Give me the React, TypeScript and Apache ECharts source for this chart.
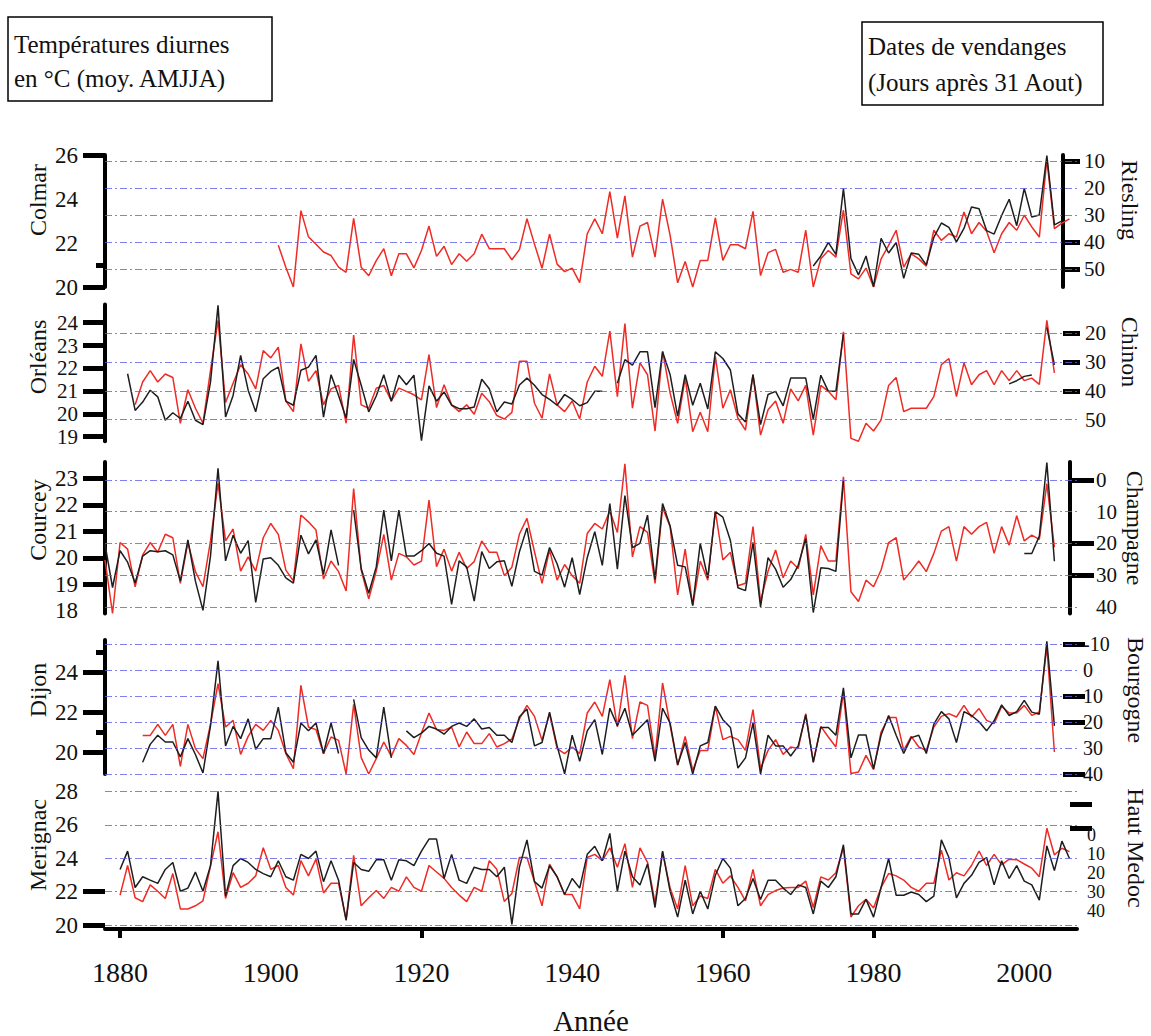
import React, { useEffect, useRef } from "react";
import * as echarts from "echarts";

const SERIF = '"Liberation Serif", "Times New Roman", Times, serif';
const RED = "#ee2b25";
const BLACK = "#1e1e1e";
const GRID_BLUE = "rgba(95, 95, 235, 0.8)";

const TITLE_LEFT = ["Températures diurnes", "en °C (moy. AMJJA)"];
const TITLE_RIGHT = ["Dates de vendanges", "(Jours après 31 Aout)"];
const X_NAME = "Année";
const YEAR_LABELS = [1880, 1900, 1920, 1940, 1960, 1980, 2000];
const YEAR_TICKS = [1880, 1920, 1960, 1980];
const YEAR_MIN = 1878;
const YEAR_MAX = 2007;

const SITES = ["Colmar", "Orléans", "Courcey", "Dijon", "Merignac"];
const VARIETIES = ["Riesling", "Chinon", "Champagne", "Bourgogne", "Haut Medoc"];

// ---- Temperatures (°C, mean AMJJA) ----
const colmarTempStart = 1901;
const colmarTemp = [
  21.9, 20.9, 20.0, 23.47, 22.28, 21.94, 21.59, 21.43, 20.9, 20.67,
  23.12, 20.9, 20.51, 21.2, 21.74, 20.51, 21.51, 21.51, 20.87, 21.66,
  22.77, 21.39, 21.85, 21.02, 21.51, 21.17, 21.51, 22.4, 21.74, 21.74,
  21.74, 21.24, 21.7, 23.1, 21.95, 20.85, 22.4, 21.04, 20.7, 20.86,
  20.2, 22.42, 23.1, 22.42, 24.33, 22.22, 24.14, 21.36, 22.77, 22.93,
  21.36, 23.99, 22.35, 20.19, 21.16, 20.0, 21.21, 21.21, 23.14, 21.21,
  21.92, 21.92, 21.74, 23.44, 20.52, 21.56, 21.71, 20.67, 20.8, 20.67,
  22.58, 20.0, 21.28, 21.66, 21.36, 23.49, 20.6, 20.37, 20.86, 20.0,
  21.28, 21.89, 22.58, 20.9, 21.51, 21.28, 20.95, 22.58, 22.12, 22.42,
  22.27, 23.41, 22.42, 22.93, 22.53, 21.56, 22.42, 22.93, 22.58, 23.26,
  22.73, 22.27, 25.8, 22.65, 22.9, 23.1,
];

const orleansTempStart = 1882;
const orleansTemp = [
  20.4, 21.4, 21.9, 21.4, 21.75, 21.6, 19.59, 21.06, 20.25,
  19.59, 21.9, 24.1, 20.5, 21.35, 22.16, 21.75, 21.1, 22.78, 22.46,
  22.93, 20.57, 20.1, 23.07, 21.43, 21.9, 20.4, 21.1, 21.25, 19.59,
  23.46, 20.4, 20.25, 21.13, 21.25, 20.57, 21.13, 20.99, 20.84, 20.62,
  22.6, 20.28, 21.28, 20.4, 20.1, 20.4, 19.99, 20.91, 20.54, 19.93,
  19.78, 20.07, 22.31, 22.31, 20.47, 19.81, 21.76, 20.4, 20.1, 20.57,
  19.78, 21.4, 22.09, 21.65, 23.63, 20.76, 23.96, 20.25, 22.24, 21.72,
  19.25, 22.75, 20.91, 19.59, 21.57, 19.22, 20.07, 19.22, 22.53, 20.25,
  21.06, 19.81, 19.29, 21.72, 19.07, 20.18, 20.57, 19.59, 21.1, 20.57,
  21.25, 19.07, 21.25, 20.99, 20.62, 23.6, 18.93, 18.8, 19.59, 19.25,
  19.74, 21.25, 21.6, 20.1, 20.25, 20.25, 20.25, 20.76, 22.16, 22.43,
  20.76, 22.24, 21.28, 21.72, 21.9, 21.28, 21.9, 21.46, 21.9, 21.46,
  21.57, 21.3, 24.1, 21.8,
];

const courceyTempStart = 1878;
const courceyTemp = [
  19.92, 17.9, 20.58,
  20.33, 18.91, 20.11, 20.58, 20.21, 20.89, 20.76, 19.04, 20.58, 19.48,
  18.91, 20.64, 22.81, 20.64, 21.09, 19.5, 20.04, 19.5, 20.76, 21.3,
  20.89, 19.54, 19.13, 21.62, 21.36, 21.05, 19.2, 19.88, 19.48, 18.75,
  22.62, 19.54, 18.45, 19.5, 20.89, 19.16, 20.17, 20.04, 19.73, 19.88,
  22.18, 19.67, 20.33, 19.5, 20.21, 19.6, 19.86, 20.64, 20.21, 20.21,
  19.33, 19.65, 20.9, 21.49, 20.23, 19.04, 20.3, 19.16, 19.75, 19.33,
  19.04, 20.92, 21.3, 21.09, 21.77, 20.96, 23.55, 20.04, 21.18, 20.96,
  19.04, 21.89, 21.18, 18.6, 20.33, 18.19, 19.88, 19.16, 21.77, 19.92,
  20.21, 18.95, 19.04, 21.18, 18.35, 19.5, 20.3, 19.25, 19.88, 19.6,
  20.89, 18.6, 20.46, 19.88, 19.88, 23.06, 18.72, 18.35, 19.16, 18.91,
  19.54, 20.58, 20.76, 19.16, 19.5, 19.88, 19.48, 20.17, 21.01, 21.18,
  19.88, 21.18, 20.89, 21.18, 21.34, 20.17, 21.18, 20.48, 21.59, 20.64,
  20.86, 20.7, 22.8, 20.4,
];

const dijonTempStart = 1883;
const dijonTemp = [
  20.83, 20.83, 21.38, 20.83, 21.38, 19.28, 21.38, 20.17,
  19.67, 21.38, 23.42, 21.25, 21.58, 19.88, 20.78, 21.38, 21.08, 21.58,
  21.08, 19.92, 19.17, 23.33, 21.25, 21.12, 19.92, 20.75, 20.58, 18.9,
  22.38, 19.72, 18.9, 19.67, 20.5, 19.78, 20.67, 20.33, 19.88, 20.95,
  21.95, 21.12, 21.08, 21.25, 20.25, 21.0, 20.42, 20.42, 20.92, 20.25,
  20.42, 20.65, 21.65, 22.33, 21.78, 20.58, 21.92, 20.17, 19.92, 20.25,
  19.92, 21.95, 22.5, 21.78, 23.62, 21.25, 23.83, 20.67, 22.5, 22.33,
  19.75, 23.45, 21.33, 19.33, 20.78, 19.08, 20.08, 20.08, 22.28, 20.62,
  20.78, 20.62, 20.08, 22.12, 19.17, 20.08, 20.62, 19.88, 20.25, 20.17,
  21.92, 19.5, 21.28, 20.75, 20.25, 23.0, 18.92, 19.0, 19.83, 19.12,
  21.0, 21.72, 21.72, 20.08, 20.78, 20.25, 20.08, 21.25, 21.78, 21.92,
  21.75, 22.33, 21.75, 22.17, 21.58, 21.42, 22.28, 21.95, 21.95, 22.33,
  21.83, 22.0, 25.3, 20.0,
];

const merignacTempStart = 1880;
const merignacTemp = [
  21.8,
  23.57, 21.64, 21.41, 22.41, 22.03, 21.6, 23.09, 20.97, 20.97, 21.16,
  21.45, 23.53, 25.59, 21.6, 23.14, 22.26, 22.51, 22.95, 24.63, 23.34,
  23.57, 22.26, 21.8, 23.86, 22.95, 23.95, 21.93, 22.51, 22.51, 20.33,
  24.18, 21.16, 21.64, 22.07, 21.6, 22.26, 22.03, 22.89, 22.26, 22.03,
  23.57, 23.18, 22.8, 22.26, 21.8, 21.41, 22.26, 22.03, 23.86, 23.34,
  21.41, 21.9, 24.05, 24.05, 22.6, 21.16, 23.66, 22.89, 21.83, 21.83,
  20.97, 24.05, 24.24, 23.86, 24.63, 23.47, 24.88, 22.26, 24.63, 23.76,
  21.35, 24.38, 22.22, 20.97, 23.57, 21.16, 21.74, 21.6, 23.34, 22.51,
  22.95, 22.26, 21.45, 23.34, 21.16, 21.83, 22.07, 22.22, 22.26, 22.26,
  22.64, 21.06, 22.89, 22.7, 23.14, 24.63, 20.49, 21.16, 21.55, 21.03,
  22.26, 23.09, 22.95, 22.7, 22.26, 22.03, 22.51, 22.51, 24.49, 22.7,
  23.14, 22.95, 23.57, 24.44, 23.57, 24.24, 23.61, 23.95, 23.92, 23.66,
  23.41, 22.9, 25.8, 24.2, 24.6, 24.4,
];

// ---- Harvest dates (days after 31 August) ----
const rieslingStart = 1972;
const rieslingDates = [
  48.7, 45, 40, 44.4, 20, 46, 52, 45, 56.4,
  38.5, 43.9, 40, 53.3, 43.9, 44.4, 48.3, 38.1, 32.8, 34.4,
  39.8, 34.8, 26.9, 27.5, 35.6, 36.9, 30, 24, 33.8, 20,
  30.6, 29.8, 7.8, 33.5, 32,
];

const chinonStart = 1881;
const chinonDates = [
  34.1, 46.8, 43.9, 39.8, 42.1, 50.2, 47.6, 49.6, 43.6, 50.2,
  51.7, 37, 10.4, 49.1, 41.6, 27.7, 39.8, 47.3, 35.8, 33.3,
  31.8, 43.6, 45, 32.9, 31.8, 27.7, 49.1, 34.4, 41.6, 49.4,
  29.1, 38.1, 47.3, 41.8, 34.4, 43.6, 34.6, 37.9, 34.6, 57.3,
  38.3, 43.6, 40.4, 45, 46.2, 46.2, 45.6, 36, 39.3, 47.3,
  43.9, 44.6, 38, 35.6, 38.1, 41.3, 43, 45, 41.3, 43,
  45.2, 44.1, 40.2, 40.2, null, 37.4, 29.2, 31.1, 26.5, 26.5,
  45.8, 26.5, 34.4, 48.8, 34.4, 45, 37.4, 46.3, 26.5, 28.8,
  32.8, 48, 50.8, 34.4, 51.7, 41.3, 40.2, 45.2, 35.6, 35.6,
  35.6, 49.9, 34.6, 40.2, 40.2, 20.4, null, null, null, null,
  null, null, null, null, null, null, null, null, null, null,
  null, null, null, null, null, null, null, 37.6, 36.5, 35,
  34.5, null, 18, 31,
];

const champagneStart = 1878;
const champagneDates = [
  20.2, 33.9, 22.3,
  25.9, 32.5, 24.0, 22.3, 22.6, 22.3, 23.6, 31.9, 18.9, 31.9,
  41.1, 24.0, -3.7, 25.5, 17.4, 23.1, 19.1, 38.6, 24.9, 24.5,
  26.9, 30.9, 32.5, 17.4, 23.3, 18.9, 29.8, 15.7, 26.9, null,
  9.5, 27.9, 35.7, 27.4, 9.5, 25.5, 9.5, 24.0, 24.0, 22.3,
  20.0, 23.1, 24.0, 39.2, 25.5, 27.4, 38.2, 22.6, 27.9, 25.8,
  25.5, 33.5, 22.6, 15.1, 28.8, 30, 21.3, 26.4, 33.8, 24.5,
  36.1, 24.5, 16.3, 26.9, 7.4, 28.1, 4.9, 21.3, 20, 11.1,
  31.4, 7.4, 14.5, 26.9, 27.4, 39.5, 20, 30.9, 10, 11.7,
  19.1, 34, 34.9, 19.7, 40, 24.5, 28.1, 33.8, 31.4, 26.9,
  18.5, 41.8, 27.7, 27.9, 28.8, 0.3, null, null, null, null,
  null, null, null, null, null, null, null, null, null, null,
  null, null, null, null, null, null, null, null, null, 23.2,
  23.2, 17.7, -5.5, 25.6,
];

const bourgogneStart = 1883;
const bourgogneDates = [
  35.5, 28.6, 25.1, 27.7, 27.7, 33.4, 26.4, 32.5,
  39.6, 21.4, -3.5, 29.2, 21.7, 26.4, 18.8, 30.5, 26.4, 26.4,
  14.3, 31.8, 35.5, 20.4, 23.4, 20.4, 32.1, 20.4, 32.1, null,
  11.3, 26, 30.8, 33.8, 14.3, 33.8, null, 23.4, 26, 24.3,
  21.7, 22.7, 24.7, 21.7, 20.4, 21.7, 18.8, 22.7, 22.1, 25.1,
  25.1, 27.9, 18, 15, 29.2, 27.9, 16.2, 29.2, 39.9, 25.1,
  35.1, 23.4, 19.1, 32.5, 14.7, 21.4, 14.7, 25.1, 22.1, 19.1,
  35.1, 14.7, 20.4, 36.4, 27.9, 40, 29.2, 27.9, 13.9, 19.1,
  22.1, 37.7, 33.8, 20.4, 40, 25.1, 29.2, 29.2, 33.1, 29.2,
  17.3, 35.5, 22.1, 22.1, 25.1, 6.9, 33.8, 25, 25, 38,
  25, 17.5, 25.1, 32.1, 26, 25.1, 32.1, 20.8, 16, 18.8,
  27.9, 16, 17.5, 19.9, 23.4, 19.5, 13.4, 17.5, 16, 11.7,
  16.2, 17, -11, 21.5,
];

const hautMedocStart = 1880;
const hautMedocDates = [
  18.1,
  8.4, 27.7, 22.0, 23.8, 25.5, 18.1, 14.4, 29.7, 28.0, 19.5,
  29.7, 16.1, -23.3, 32.3, 16.1, 12.3, 14.4, 18.1, 20.3, 22.0,
  13.5, 22.0, 23.8, 10.1, 12.3, 8.4, 24.6, 13.5, 23.8, 45.1,
  14.4, 18.1, 19.1, 13.0, 13.0, 23.8, 13.0, 13.5, 16.1, 8.4,
  2.0, 2.0, 22.9, 10.1, 23.8, 25.5, 16.9, 18.1, 18.1, 22.0,
  16.9, 47.2, 16.9, 2.4, 24.6, 28.0, 16.1, 22.0, 31.4, 22.9,
  28.0, 10.1, 5.8, 13.5, -1.0, 29.7, 8.4, 22.0, 26.3, 15.2,
  38.3, 8.4, 29.7, 43.4, 23.8, 41.7, 29.7, 39.1, 21.2, 12.3,
  17.4, 37.4, 33.5, 22.9, 34.0, 23.8, 23.8, 28.0, 31.4, 26.3,
  27.7, 41.7, 24.3, 27.7, 22.0, 5.0, 41.7, 41.7, 34.0, 43.4,
  27.7, 12.3, 31.8, 31.8, 30.1, 31.4, 35.2, 32.3, 2.4, 11.8,
  33.2, 25.5, 21.2, 14.4, 11.8, 26.3, 13.5, 22.9, 16.1, 24.3,
  26.3, 34.4, 5.6, 18.7, 3.1, 12.3,
];

const TEMP_SERIES = [
  { start: colmarTempStart, values: colmarTemp },
  { start: orleansTempStart, values: orleansTemp },
  { start: courceyTempStart, values: courceyTemp },
  { start: dijonTempStart, values: dijonTemp },
  { start: merignacTempStart, values: merignacTemp },
];
const DATE_SERIES = [
  { start: rieslingStart, values: rieslingDates },
  { start: chinonStart, values: chinonDates },
  { start: champagneStart, values: champagneDates },
  { start: bourgogneStart, values: bourgogneDates },
  { start: hautMedocStart, values: hautMedocDates },
];

// ---- panel layout / axis appearance ----
type Layout = {
  top: number; height: number;
  tMin: number; tMax: number; dMin: number; dMax: number;
  tTicks: number[]; tShort?: number[]; tLabels: number[]; tLine: boolean; tFont: number;
  dTicks: number[]; dLabels: number[]; dLine: boolean;
  dOffset: number; dTickLen: number; dMargin: number; dFont: number;
  gridAxis: "t" | "d"; gridVals: number[];
  siteY: number; varX: number; varY: number;
};

const LAYOUT: Layout[] = [
  {
    top: 155, height: 132, tMin: 20, tMax: 26, dMin: 7.6, dMax: 56.5,
    tTicks: [20, 26], tShort: [21], tLabels: [20, 22, 24, 26], tLine: true, tFont: 23,
    dTicks: [10, 40, 50], dLabels: [10, 20, 30, 40, 50], dLine: true,
    dOffset: -14, dTickLen: 17, dMargin: 21, dFont: 21,
    gridAxis: "d", gridVals: [10, 20, 30, 40, 50],
    siteY: 200, varX: 1130, varY: 200,
  },
  {
    top: 304.5, height: 136.8, tMin: 18.8, tMax: 24.8, dMin: 10.1, dMax: 57.5,
    tTicks: [19, 20, 21, 22, 23, 24], tLabels: [19, 20, 21, 22, 23, 24], tLine: true, tFont: 21,
    dTicks: [20, 30, 40], dLabels: [20, 30, 40, 50], dLine: false,
    dOffset: -14, dTickLen: 17, dMargin: 22, dFont: 21,
    gridAxis: "d", gridVals: [20, 30, 40, 50],
    siteY: 357, varX: 1130, varY: 352,
  },
  {
    top: 462, height: 151.5, tMin: 17.9, tMax: 23.62, dMin: -5.68, dMax: 42.1,
    tTicks: [19, 20, 21, 22, 23], tLabels: [18, 19, 20, 21, 22, 23], tLine: true, tFont: 23,
    dTicks: [0, 20, 30], dLabels: [0, 10, 20, 30, 40], dLine: true,
    dOffset: -7, dTickLen: 24, dMargin: 26, dFont: 21,
    gridAxis: "d", gridVals: [0, 10, 20, 30, 40],
    siteY: 520, varX: 1135, varY: 528,
  },
  {
    top: 640, height: 134, tMin: 18.9, tMax: 25.6, dMin: -11.54, dMax: 40,
    tTicks: [20, 22, 24], tShort: [21, 25], tLabels: [20, 22, 24], tLine: true, tFont: 23,
    dTicks: [-10, 10, 20, 40], dLabels: [-10, 0, 10, 20, 30, 40], dLine: false,
    dOffset: -14, dTickLen: 22, dMargin: 20, dFont: 20,
    gridAxis: "d", gridVals: [-10, 0, 10, 20, 30, 40],
    siteY: 690, varX: 1136, varY: 690,
  },
  {
    top: 788, height: 146.3, tMin: 19.77, tMax: 28.21, dMin: -25.1, dMax: 49.7,
    tTicks: [20, 22], tLabels: [20, 22, 24, 26, 28], tLine: false, tFont: 23,
    dTicks: [-16.4, -3.6], dLabels: [0, 10, 20, 30, 40], dLine: false,
    dOffset: -7, dTickLen: 22, dMargin: 17, dFont: 18,
    gridAxis: "t", gridVals: [20, 22, 24, 26, 28],
    siteY: 845, varX: 1136, varY: 848,
  },
];

const pairs = (start: number, values: (number | null)[]) =>
  values.map((v, i) => [start + i, v === null ? "-" : v]);

function buildOption() {
  const grids: any[] = [];
  const xAxes: any[] = [];
  const yAxes: any[] = [];
  const series: any[] = [];
  const graphic: any[] = [];

  LAYOUT.forEach((p, i) => {
    const last = i === LAYOUT.length - 1;
    grids.push({ left: 105, right: 74, top: p.top, height: p.height, containLabel: false });

    xAxes.push({
      type: "value", gridIndex: i, min: YEAR_MIN, max: YEAR_MAX, show: last,
      axisLine: { show: last, onZero: false, lineStyle: { color: "#000", width: 4 } },
      axisTick: { show: last, customValues: YEAR_TICKS, length: 9, lineStyle: { color: "#000", width: 4 } },
      axisLabel: {
        show: last, customValues: YEAR_LABELS, margin: 29, color: "#111",
        fontFamily: SERIF, fontSize: 28, formatter: (v: number) => String(v),
      },
      splitLine: { show: false },
      name: last ? X_NAME : "", nameLocation: "middle", nameGap: 77,
      nameTextStyle: { fontFamily: SERIF, fontSize: 29, color: "#111" },
    });

    const tIdx = yAxes.length;
    yAxes.push({
      type: "value", gridIndex: i, position: "left", min: p.tMin, max: p.tMax,
      axisLine: { show: p.tLine, onZero: false, lineStyle: { color: "#000", width: 4 } },
      axisTick: { show: true, customValues: p.tTicks, length: 22, lineStyle: { color: "#000", width: 5 } },
      axisLabel: {
        customValues: p.tLabels, margin: 27, color: "#111", fontFamily: SERIF, fontSize: p.tFont,
        lineHeight: p.tFont - 2, showMinLabel: true, showMaxLabel: true, hideOverlap: false,
        formatter: (v: number) => String(v),
      },
      splitLine: { show: false },
    });
    const dIdx = yAxes.length;
    yAxes.push({
      type: "value", gridIndex: i, position: "right", inverse: true, offset: p.dOffset,
      min: p.dMin, max: p.dMax,
      axisLine: { show: p.dLine, onZero: false, lineStyle: { color: "#000", width: 4 } },
      axisTick: { show: true, customValues: p.dTicks, length: p.dTickLen, lineStyle: { color: "#000", width: 5 } },
      axisLabel: {
        customValues: p.dLabels, margin: p.dMargin, color: "#111", fontFamily: SERIF,
        fontSize: p.dFont, lineHeight: 16, showMinLabel: true, showMaxLabel: true, hideOverlap: false,
        formatter: (v: number) => String(v),
      },
      splitLine: { show: false },
    });
    if (p.tShort) {
      yAxes.push({
        type: "value", gridIndex: i, position: "left", min: p.tMin, max: p.tMax,
        axisLine: { show: false, onZero: false },
        axisTick: { show: true, customValues: p.tShort, length: 9, lineStyle: { color: "#000", width: 5 } },
        axisLabel: { show: false },
        splitLine: { show: false },
      });
    }

    const markLine = {
      silent: true,
      symbol: ["none", "none"],
      label: { show: false },
      animation: false,
      lineStyle: { color: GRID_BLUE, width: 1, type: [7, 3, 2, 3] },
      data: p.gridVals.map((v) => ({ yAxis: v })),
    };

    const t = TEMP_SERIES[i];
    const d = DATE_SERIES[i];
    series.push({
      type: "line", name: SITES[i], xAxisIndex: i, yAxisIndex: tIdx,
      data: pairs(t.start, t.values), showSymbol: false, silent: true, z: 3,
      lineStyle: { color: RED, width: 1.5 }, itemStyle: { color: RED },
      emphasis: { disabled: true },
      markLine: p.gridAxis === "t" ? markLine : undefined,
    });
    series.push({
      type: "line", name: VARIETIES[i], xAxisIndex: i, yAxisIndex: dIdx,
      data: pairs(d.start, d.values), showSymbol: false, silent: true, z: 4,
      lineStyle: { color: BLACK, width: 1.5 }, itemStyle: { color: BLACK },
      emphasis: { disabled: true },
      markLine: p.gridAxis === "d" ? markLine : undefined,
    });

    graphic.push({
      type: "text", x: 38, y: p.siteY, rotation: Math.PI / 2, silent: true,
      style: { text: SITES[i], font: `24px ${SERIF}`, fill: "#111", align: "center", verticalAlign: "middle" },
    });
    graphic.push({
      type: "text", x: p.varX, y: p.varY, rotation: -Math.PI / 2, silent: true,
      style: { text: VARIETIES[i], font: `24px ${SERIF}`, fill: "#111", align: "center", verticalAlign: "middle" },
    });
  });

  // title boxes
  const boxes = [
    { x: 8, y: 17, w: 264, h: 84, lines: TITLE_LEFT, tx: 14, ty: [44, 78] },
    { x: 862, y: 22, w: 241, h: 83, lines: TITLE_RIGHT, tx: 868, ty: [46, 82] },
  ];
  boxes.forEach((b) => {
    graphic.push({
      type: "rect", silent: true,
      shape: { x: b.x, y: b.y, width: b.w, height: b.h },
      style: { fill: "none", stroke: "#000", lineWidth: 1.5 },
    });
    b.lines.forEach((line, k) => {
      graphic.push({
        type: "text", x: b.tx, y: b.ty[k], silent: true,
        style: { text: line, font: `25px ${SERIF}`, fill: "#111", align: "left", verticalAlign: "middle" },
      });
    });
  });

  return {
    animation: false,
    backgroundColor: "#ffffff",
    grid: grids,
    xAxis: xAxes,
    yAxis: yAxes,
    series,
    graphic,
  };
}

export default function App() {
  const ref = useRef<HTMLDivElement>(null);
  useEffect(() => {
    if (!ref.current) return;
    const chart = echarts.init(ref.current, null, { renderer: "svg" });
    chart.setOption(buildOption() as any);
    return () => chart.dispose();
  }, []);
  return (
    <div
      ref={ref}
      style={{ position: "absolute", left: 0, top: 0, width: 1151, height: 1036, background: "#fff" }}
    />
  );
}
